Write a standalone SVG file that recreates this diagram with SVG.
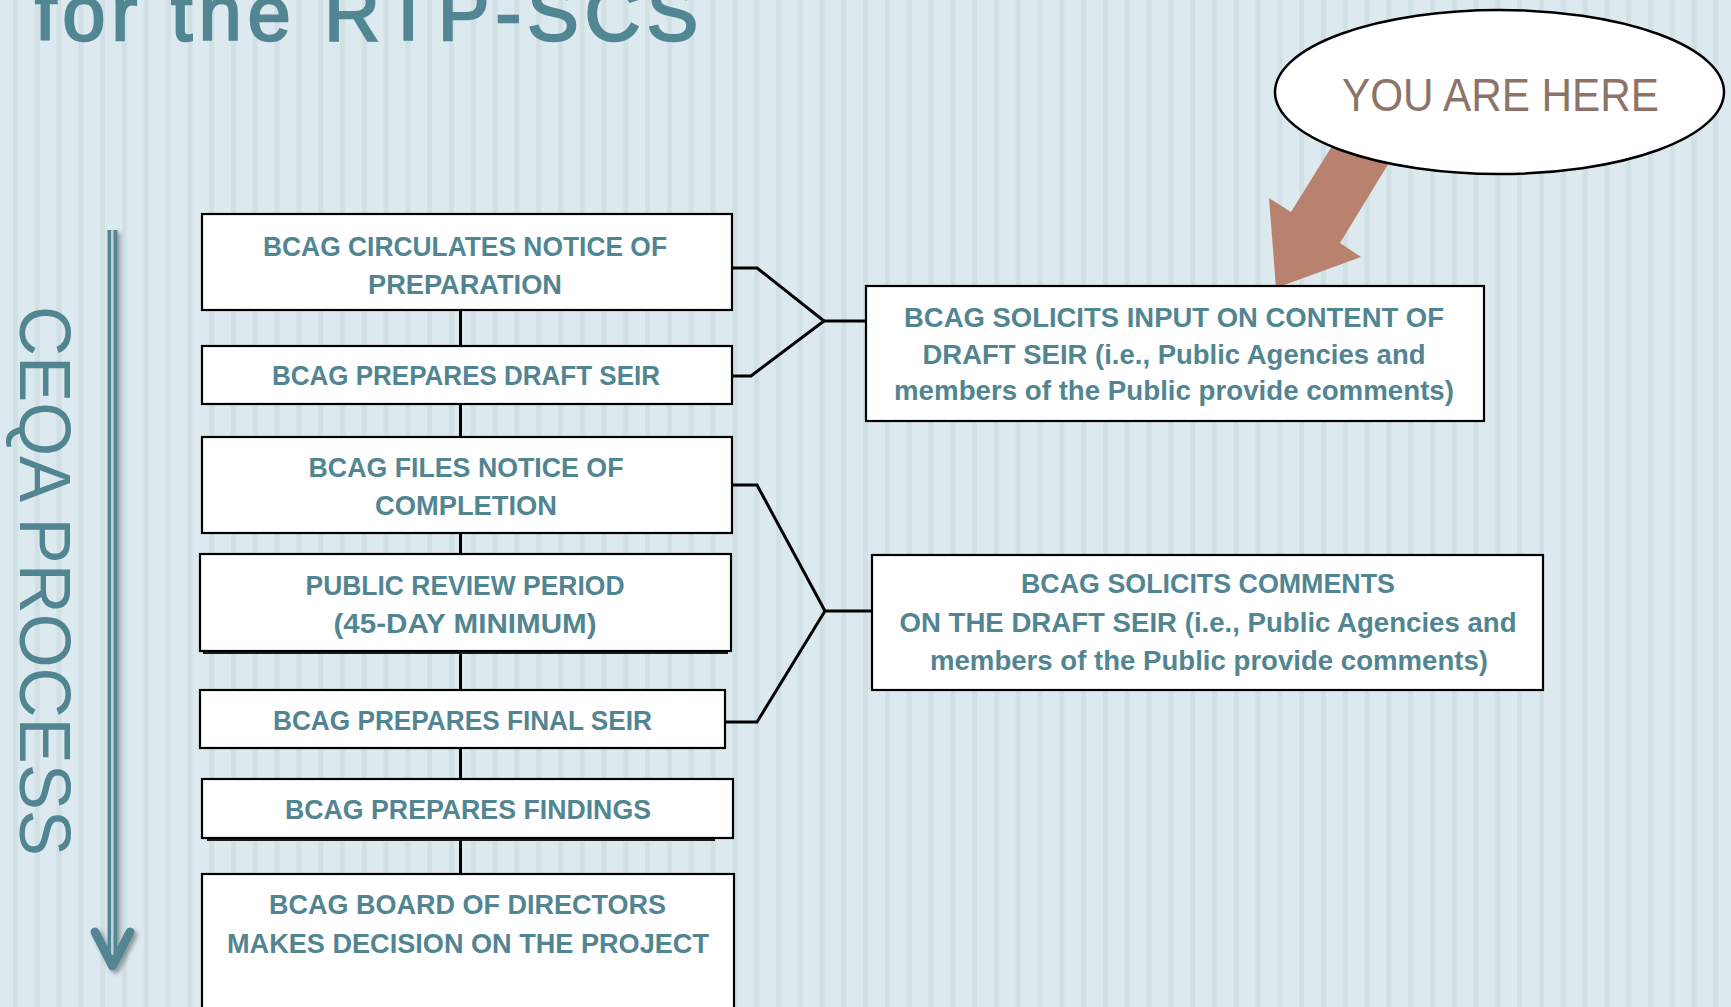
<svg xmlns="http://www.w3.org/2000/svg" width="1731" height="1007" viewBox="0 0 1731 1007">
<defs>
<pattern id="stripes" patternUnits="userSpaceOnUse" width="21.8" height="20">
<rect x="0" y="0" width="21.8" height="20" fill="#dce9ee"/>
<rect x="13" y="0" width="5" height="20" fill="#d0e0e5"/>
</pattern>
<filter id="sh" x="-50%" y="-10%" width="200%" height="120%">
<feGaussianBlur in="SourceAlpha" stdDeviation="2"/>
<feOffset dx="3" dy="3" result="b"/>
<feComponentTransfer><feFuncA type="linear" slope="0.35"/></feComponentTransfer>
<feMerge><feMergeNode/><feMergeNode in="SourceGraphic"/></feMerge>
</filter>
</defs>
<style>
.box{fill:#ffffff;stroke:#000000;stroke-width:2.2}
.t{font-family:"Liberation Sans",Arial,sans-serif;font-weight:bold;font-size:27px;fill:#528592;text-anchor:middle}
.c{fill:none;stroke:#000000;stroke-width:3;stroke-linejoin:miter}
</style>
<rect x="0" y="0" width="1731" height="1007" fill="url(#stripes)"/>

<g id="title">
<text x="35" y="40" font-family="'Liberation Sans',Arial,sans-serif" font-size="77" fill="#528693" stroke="#528693" stroke-width="2.4" textLength="663" lengthAdjust="spacing">for the RTP-SCS</text>
</g>

<g id="process-arrow" filter="url(#sh)">
<rect x="107.5" y="230" width="10" height="730" fill="#528592"/>
<rect x="111" y="230" width="2.6" height="725" fill="#b9d0d7"/>
<polyline points="95,932 112.5,966 130,932" fill="none" stroke="#528592" stroke-width="9" stroke-linecap="round" stroke-linejoin="round"/>
</g>
<g id="process-label">
<text transform="translate(20,306) rotate(90)" x="0" y="0" font-family="'Liberation Sans',Arial,sans-serif" font-size="72" fill="#528592" textLength="550" lengthAdjust="spacingAndGlyphs">CEQA PROCESS</text>
</g>

<g id="connectors">
<line class="c" x1="460.5" y1="310" x2="460.5" y2="876"/>
<polyline class="c" points="732,268 757,268 824,321 751,376 732,376"/>
<line class="c" x1="824" y1="321" x2="866" y2="321"/>
<polyline class="c" points="732,485 757,485 825,611 757,722 726,722"/>
<line class="c" x1="825" y1="611" x2="872" y2="611"/>
</g>

<g id="you-are-here-arrow">
<polygon points="1342,130 1291,212 1269,198 1276,288 1361,257 1340,243 1409,130" fill="#b8826f"/>
</g>
<g id="you-are-here">
<ellipse cx="1499.5" cy="92" rx="224.5" ry="82" fill="#ffffff" stroke="#000000" stroke-width="2.5"/>
<text x="1500.5" y="111" font-family="'Liberation Sans',Arial,sans-serif" font-size="46" fill="#8c7469" text-anchor="middle" textLength="317" lengthAdjust="spacingAndGlyphs">YOU ARE HERE</text>
</g>

<g id="n1">
<rect class="box" x="202" y="214" width="530" height="96"/>
<text class="t" x="465" y="256" textLength="404" lengthAdjust="spacingAndGlyphs">BCAG CIRCULATES NOTICE OF</text>
<text class="t" x="465" y="294" textLength="194" lengthAdjust="spacingAndGlyphs">PREPARATION</text>
</g>
<g id="n2">
<rect class="box" x="202" y="346" width="530" height="58"/>
<text class="t" x="466" y="385" textLength="388" lengthAdjust="spacingAndGlyphs">BCAG PREPARES DRAFT SEIR</text>
</g>
<g id="n3">
<rect class="box" x="202" y="437" width="530" height="96"/>
<text class="t" x="466" y="477" textLength="315" lengthAdjust="spacingAndGlyphs">BCAG FILES NOTICE OF</text>
<text class="t" x="466" y="515" textLength="182" lengthAdjust="spacingAndGlyphs">COMPLETION</text>
</g>
<g id="n4">
<rect x="203" y="555" width="525" height="99" fill="#1a1a1a"/>
<rect class="box" x="200" y="554" width="531" height="97"/>
<text class="t" x="465" y="595" textLength="319" lengthAdjust="spacingAndGlyphs">PUBLIC REVIEW PERIOD</text>
<text class="t" x="465" y="633" textLength="263" lengthAdjust="spacingAndGlyphs">(45-DAY MINIMUM)</text>
</g>
<g id="n5">
<rect class="box" x="200" y="690" width="525" height="58"/>
<text class="t" x="462.5" y="730" textLength="379" lengthAdjust="spacingAndGlyphs">BCAG PREPARES FINAL SEIR</text>
</g>
<g id="n6">
<rect x="207" y="782" width="508" height="59" fill="#1a1a1a"/>
<rect class="box" x="202" y="779" width="531" height="59"/>
<text class="t" x="468" y="819" textLength="366" lengthAdjust="spacingAndGlyphs">BCAG PREPARES FINDINGS</text>
</g>
<g id="n7">
<rect class="box" x="202" y="874" width="532" height="150"/>
<text class="t" x="467.5" y="914" textLength="397" lengthAdjust="spacingAndGlyphs">BCAG BOARD OF DIRECTORS</text>
<text class="t" x="468" y="953" textLength="482" lengthAdjust="spacingAndGlyphs">MAKES DECISION ON THE PROJECT</text>
</g>

<g id="r1">
<rect class="box" x="866" y="286" width="618" height="135"/>
<text class="t" x="1174" y="327" textLength="540" lengthAdjust="spacingAndGlyphs">BCAG SOLICITS INPUT ON CONTENT OF</text>
<text class="t" x="1174" y="364" textLength="503" lengthAdjust="spacingAndGlyphs">DRAFT SEIR (i.e., Public Agencies and</text>
<text class="t" x="1174" y="400" textLength="560" lengthAdjust="spacingAndGlyphs">members of the Public provide comments)</text>
</g>
<g id="r2">
<rect class="box" x="872" y="555" width="671" height="135"/>
<text class="t" x="1208" y="593" textLength="374" lengthAdjust="spacingAndGlyphs">BCAG SOLICITS COMMENTS</text>
<text class="t" x="1208" y="632" textLength="617" lengthAdjust="spacingAndGlyphs">ON THE DRAFT SEIR (i.e., Public Agencies and</text>
<text class="t" x="1209" y="670" textLength="558" lengthAdjust="spacingAndGlyphs">members of the Public provide comments)</text>
</g>
</svg>
